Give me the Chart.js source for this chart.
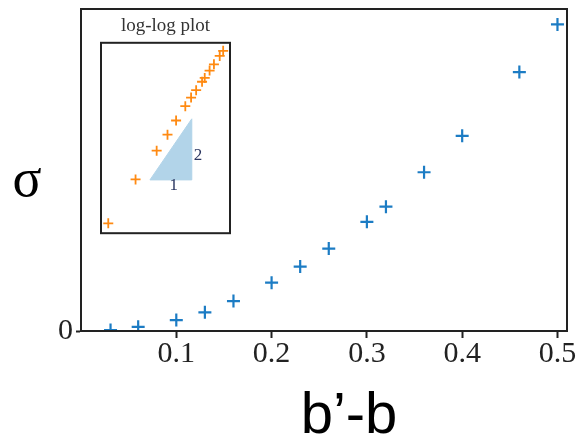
<!DOCTYPE html>
<html>
<head>
<meta charset="utf-8">
<script src="https://cdn.jsdelivr.net/npm/chart.js@4.4.0/dist/chart.umd.min.js"></script>
<style>
  body { margin: 0; background: #fff; }
  #wrap { position: relative; width: 580px; height: 438px; }
  #main { position: absolute; left: 0; top: 0; }
  #inset { position: absolute; left: 90px; top: 8px; }
</style>
</head>
<body>
<div id="wrap">
  <canvas id="main" width="580" height="438"></canvas>
  <canvas id="inset" width="152" height="232"></canvas>
</div>
<script>
// measured spread b'-b and the resulting sigma
const bDiff = [0.031, 0.06, 0.1, 0.13, 0.16, 0.2, 0.23, 0.26, 0.3, 0.32, 0.36, 0.4, 0.46, 0.5];
const sigma = [0.003, 0.013, 0.034, 0.058, 0.093, 0.150, 0.200, 0.256, 0.339, 0.386, 0.493, 0.606, 0.804, 0.952];

// axis ticks of the main plot
const xTicks = [0.1, 0.2, 0.3, 0.4, 0.5];
const yTicks = [0];

// slope-2 guide triangle in the log-log inset
const slopeX = [0.085, 0.234];
const slopeY = [0.0128, 0.0984];
const slopeText = ['1', '2'];

const BLUE = '#1c7cc4';
const ORANGE = '#ff8a12';
const INK = '#222';

const points = bDiff.map((b, i) => ({ x: b, y: sigma[i] }));

// box around the plot area
const framePlugin = {
  id: 'frame',
  afterDatasetsDraw(chart, args, opts) {
    const { ctx, chartArea: a } = chart;
    ctx.save();
    ctx.strokeStyle = opts.color;
    ctx.lineWidth = opts.width;
    ctx.strokeRect(a.left, a.top, a.right - a.left, a.bottom - a.top);
    ctx.restore();
  }
};

// big axis names
const axisText = {
  id: 'axisText',
  afterDraw(chart, args, opts) {
    const ctx = chart.ctx;
    ctx.save();
    ctx.fillStyle = '#000';
    ctx.textAlign = 'center';
    ctx.textBaseline = 'alphabetic';
    ctx.font = opts.yFont;
    ctx.fillText('σ', opts.yPos[0], opts.yPos[1]);
    ctx.font = opts.xFont;
    ctx.fillText('b’-b', opts.xPos[0], opts.xPos[1]);
    ctx.restore();
  }
};

new Chart(document.getElementById('main'), {
  type: 'scatter',
  data: {
    datasets: [{
      data: points,
      pointStyle: 'cross',
      pointRadius: 6.5,
      pointHoverRadius: 6.5,
      borderWidth: 2.2,
      borderColor: BLUE,
      backgroundColor: BLUE
    }]
  },
  options: {
    responsive: false,
    animation: false,
    devicePixelRatio: 1,
    events: [],
    layout: { padding: { top: 9, right: 13, left: 0, bottom: 0 } },
    plugins: {
      legend: { display: false },
      tooltip: { enabled: false },
      frame: { color: INK, width: 2 },
      axisText: {
        yFont: '54px "Liberation Serif"', yPos: [27, 196],
        xFont: '58px "Liberation Sans"', xPos: [349, 433]
      }
    },
    scales: {
      x: {
        type: 'linear', min: 0, max: 0.51,
        afterBuildTicks: s => { s.ticks = xTicks.map(v => ({ value: v })); },
        afterFit: s => { s.height = 107; s.paddingLeft = 0; s.paddingRight = 0; },
        ticks: {
          callback: v => v.toFixed(1),
          font: { family: 'Liberation Serif', size: 30, lineHeight: 1 },
          color: INK, padding: 1, maxRotation: 0, autoSkip: false
        },
        grid: { drawOnChartArea: false, tickLength: 7, tickWidth: 2, color: INK },
        border: { color: INK, width: 2 }
      },
      y: {
        type: 'linear', min: 0, max: 1,
        afterBuildTicks: s => { s.ticks = yTicks.map(v => ({ value: v })); },
        afterFit: s => { s.width = 81; s.paddingTop = 0; s.paddingBottom = 0; },
        ticks: {
          callback: v => String(v),
          font: { family: 'Liberation Serif', size: 30, lineHeight: 1 },
          color: INK, padding: 3
        },
        grid: { drawOnChartArea: false, tickLength: 5, tickWidth: 2, color: INK },
        border: { color: INK, width: 2 }
      }
    }
  },
  plugins: [framePlugin, axisText]
});

// "1" and "2" beside the guide triangle
const slopeLabels = {
  id: 'slopeLabels',
  afterDatasetsDraw(chart) {
    const { ctx, scales: { x, y } } = chart;
    const x0 = x.getPixelForValue(slopeX[0]), x1 = x.getPixelForValue(slopeX[1]);
    const y0 = y.getPixelForValue(slopeY[0]), y1 = y.getPixelForValue(slopeY[1]);
    ctx.save();
    ctx.fillStyle = '#2a3560';
    ctx.font = '17px "Liberation Serif"';
    ctx.textBaseline = 'middle';
    ctx.textAlign = 'center';
    ctx.fillText(slopeText[0], (x0 + x1) / 2 + 3, y0 + 6);
    ctx.textAlign = 'left';
    ctx.fillText(slopeText[1], x1 + 2, (y0 + y1) / 2 + 6);
    ctx.restore();
  }
};

new Chart(document.getElementById('inset'), {
  type: 'scatter',
  data: {
    datasets: [{
      data: [
        { x: slopeX[0], y: slopeY[0] },
        { x: slopeX[1], y: slopeY[0] },
        { x: slopeX[1], y: slopeY[1] },
        { x: slopeX[0], y: slopeY[0] }
      ],
      showLine: true,
      fill: 'shape',
      backgroundColor: '#b2d4e9',
      borderColor: '#b2d4e9',
      borderWidth: 1,
      pointRadius: 0,
      order: 2
    }, {
      data: points,
      pointStyle: 'cross',
      pointRadius: 5,
      pointHoverRadius: 5,
      borderWidth: 1.8,
      borderColor: ORANGE,
      backgroundColor: ORANGE,
      order: 1
    }]
  },
  options: {
    responsive: false,
    animation: false,
    devicePixelRatio: 1,
    events: [],
    layout: { padding: { top: 0, right: 12, left: 11, bottom: 4 } },
    plugins: {
      legend: { display: false },
      tooltip: { enabled: false },
      frame: { color: INK, width: 2 },
      title: {
        display: true,
        text: 'log-log plot',
        color: '#333',
        font: { family: 'Liberation Serif', size: 19, weight: 'normal', lineHeight: 1.2 },
        padding: { top: 7, bottom: 5 }
      }
    },
    scales: {
      x: { type: 'logarithmic', display: false, min: 0.026, max: 0.59 },
      y: { type: 'logarithmic', display: false, min: 0.00216, max: 1.245 }
    }
  },
  plugins: [framePlugin, slopeLabels]
});
</script>
</body>
</html>
